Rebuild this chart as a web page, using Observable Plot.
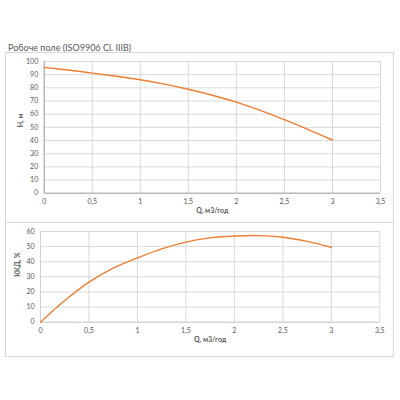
<!DOCTYPE html>
<html>
<head>
<meta charset="utf-8">
<script src="https://cdn.jsdelivr.net/npm/d3@7"></script>
<script src="https://cdn.jsdelivr.net/npm/@observablehq/plot@0.6"></script>
<style>
  html, body { margin: 0; padding: 0; background: #fff; }
  #wrap { position: relative; width: 400px; height: 400px; overflow: hidden; font-family: Lato, "Open Sans", sans-serif; }
  .frame { position: absolute; border: 1px solid #d9d9d9; box-sizing: border-box; }
  .plot { position: absolute; }
  #title { position: absolute; left: 8px; top: 42px; font-size: 9px; color: #595959; white-space: nowrap; }
</style>
</head>
<body>
<div id="wrap">
  <div class="frame" style="left:5px;top:52px;width:389px;height:171px;"></div>
  <div class="frame" style="left:5px;top:222px;width:389px;height:135px;"></div>
  <div id="title">Робоче поле (ISO9906 Cl. IIIB)</div>
  <div class="plot" id="top" style="left:0;top:52px;"></div>
  <div class="plot" id="bot" style="left:0;top:223px;"></div>
</div>
<script>
const flow = [0, 0.25, 0.5, 0.75, 1, 1.25, 1.5, 1.75, 2, 2.25, 2.5, 2.75, 3];
const head = [95.5, 93.5, 91.2, 88.8, 86.1, 82.8, 78.9, 74.4, 69.2, 62.9, 55.8, 48.3, 40.4];
const efficiency = [0, 14.3, 26.5, 35.8, 42.5, 48.5, 53.0, 55.8, 57.0, 57.3, 56.2, 53.5, 49.6];
const xTicks = [0, 0.5, 1, 1.5, 2, 2.5, 3, 3.5];
const headTicks = [0, 10, 20, 30, 40, 50, 60, 70, 80, 90, 100];
const effTicks = [0, 10, 20, 30, 40, 50, 60];
const title = "Робоче поле (ISO9906 Cl. IIIB)";
const xLabel = "Q, м3/год";
const headLabel = "H, м";
const effLabel = "ККД, %";

const fmt = v => String(v).replace(".", ",");
const headData = flow.map((q, i) => ({q, v: head[i]}));
const effData = flow.map((q, i) => ({q, v: efficiency[i]}));

function chart({data, yTicks, yMax, yLabel, width, height, margins, axisColor}) {
  return Plot.plot({
    width, height,
    marginLeft: margins[0], marginRight: margins[1], marginTop: margins[2], marginBottom: margins[3],
    style: {fontFamily: "Lato, 'Open Sans', sans-serif", fontSize: "7px", color: "#595959", background: "transparent", overflow: "visible"},
    x: {domain: [0, 3.5]},
    y: {domain: [0, yMax]},
    marks: [
      Plot.gridX(xTicks, {stroke: "#d9d9d9", strokeOpacity: 1}),
      Plot.gridY(yTicks, {stroke: "#d9d9d9", strokeOpacity: 1}),
      Plot.ruleY([0], {stroke: axisColor}),
      Plot.ruleX([0], {stroke: axisColor}),
      Plot.axisX(xTicks, {tickSize: 0, tickPadding: 6, tickFormat: fmt, label: null, fill: "#595959"}),
      Plot.axisY(yTicks, {tickSize: 0, tickPadding: 6, label: null, fill: "#595959"}),
      Plot.line(data, {x: "q", y: "v", stroke: "#ED7D31", strokeWidth: 1.4, curve: "catmull-rom"}),
      Plot.text([xLabel], {frameAnchor: "bottom", dy: 20, text: d => d, fontWeight: "bold", fill: "#595959", fontSize: 7}),
      Plot.text([yLabel], {frameAnchor: "left", dx: -23, rotate: -90, text: d => d, fontWeight: "bold", fill: "#595959", fontSize: 7})
    ]
  });
}

document.getElementById("top").appendChild(chart({
  data: headData, yTicks: headTicks, yMax: 100, yLabel: headLabel,
  width: 395, height: 168, margins: [43.7, 15, 9, 27.3], axisColor: "#a6a6a6"
}));
document.getElementById("bot").appendChild(chart({
  data: effData, yTicks: effTicks, yMax: 60, yLabel: effLabel,
  width: 395, height: 134, margins: [40, 15.7, 8, 35.3], axisColor: "#d0d0d0"
}));
</script>
</body>
</html>
